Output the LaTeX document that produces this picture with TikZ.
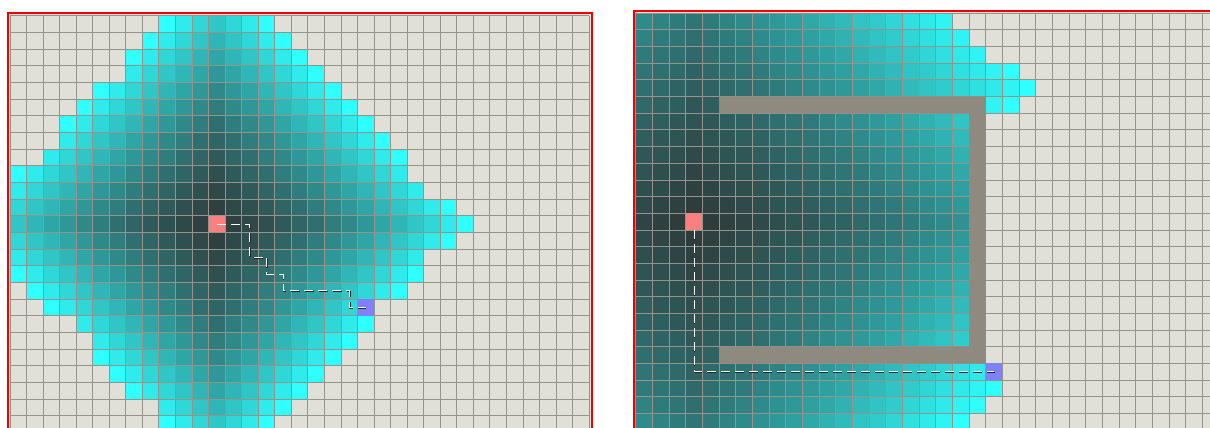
\documentclass[tikz,border=0pt]{standalone}
\usetikzlibrary{positioning}
\definecolor{floorc}{RGB}{224,223,216}
\definecolor{gridc}{RGB}{150,147,138}
\definecolor{wallc}{RGB}{143,138,128}
\definecolor{nearc}{RGB}{47,58,58}
\definecolor{farc}{RGB}{48,255,255}
\definecolor{srcc}{RGB}{250,128,128}
\definecolor{dstc}{RGB}{128,128,250}
\definecolor{framec}{RGB}{240,0,0}

\begin{document}
\begin{tikzpicture}[x=1pt, y=-1pt,
  frame/.style={draw=framec, line width=2pt},
  gridline/.style={draw=gridc, line width=1pt},
  srccell/.style={rectangle, fill=srcc, inner sep=0pt, minimum width=16.5pt, minimum height=16.6pt},
  dstcell/.style={srccell, fill=dstc},
  trail/.style={draw=white, line width=1pt, dash pattern=on 9pt off 5pt,
    preaction={draw=black!85, line width=1.3pt, dash pattern=on 9pt off 5pt,
      transform canvas={xshift=0.6pt, yshift=-0.7pt}}}
]
\clip (0,0) rectangle (1210,428);
\fill[white] (0,0) rectangle (1210,428);

% open field
\fill[floorc] (8.3,13.3) rectangle (591.5,440);
\begin{scope}[shift={(10,15.7)}, x=16.55pt, y=-16.67pt]
  \foreach \row/\lo/\hi in {0/9/15, 1/8/16, 2/7/17, 3/7/18, 4/5/19, 5/4/20, 6/3/21,
      7/3/22, 8/2/23, 9/0/23, 10/0/24, 11/0/26, 12/0/27, 13/0/26, 14/0/24, 15/0/24,
      16/1/23, 17/2/21, 18/4/21, 19/5/20, 20/5/19, 21/6/18, 22/7/17, 23/9/16, 24/9/15}{
    \foreach \col in {\lo,...,\hi}{
      \pgfmathsetmacro\tval{(abs(\col-12)+abs(\row-12))/15}
      \pgfmathtruncatemacro\mix{100*(0.5*\tval*\tval+0.5*\tval)}
      \fill[farc!\mix!nearc] (\col,\row) rectangle ++(1,1);
    }
  }
  \foreach \i in {0,...,35} \draw[gridline] (\i,0) -- (\i,25);
  \foreach \j in {0,...,25} \draw[gridline] (0,\j) -- (35,\j);
  \node[srccell] (srcA) at (12.5,12.5) {};
  \node[dstcell] (dstA) at (21.5,17.5) {};
  \draw[trail] (srcA.center) -- (14.5,12.5) -- (14.5,14.5) -- (15.5,14.5) -- (15.5,15.5)
    -- (16.5,15.5) -- (16.5,16.5) -- (20.5,16.5) -- (20.5,17.5) -- (dstA.center);
\end{scope}
\draw[frame] (8.3,13.3) rectangle (591.5,440);

% walled room
\fill[floorc] (634,11) rectangle (1230,440);
\begin{scope}[shift={(635.7,13.3)}, x=16.67pt, y=-16.67pt]
  \foreach \col in {0,...,34}{
    \foreach \row in {0,...,24}{
      \pgfmathtruncatemacro\dist{(\col>20 && \row>4 && \row<21) ? min(\col+\row+1,\col+27-\row) : abs(\col-3)+abs(\row-12)}
      \ifnum\dist<28
        \pgfmathsetmacro\tval{\dist/28}
        \pgfmathtruncatemacro\mix{100*(0.5*\tval*\tval+0.5*\tval)}
        \fill[farc!\mix!nearc] (\col,\row) rectangle ++(1,1);
      \fi
    }
  }
  \foreach \col/\row in {22/3, 23/4, 22/5, 21/22, 20/23, 19/24}
    \fill[farc] (\col,\row) rectangle ++(1,1);
  \foreach \i in {0,...,35} \draw[gridline] (\i,0) -- (\i,25);
  \foreach \j in {0,...,25} \draw[gridline] (0,\j) -- (35,\j);
  \fill[wallc] (5,5) rectangle (21,6) (20,5) rectangle (21,21) (5,20) rectangle (21,21);
  \node[srccell, minimum width=16.6pt] (srcB) at (3.5,12.5) {};
  \node[dstcell, minimum width=16.6pt] (dstB) at (21.5,21.5) {};
  \draw[trail] (srcB.south) -- (3.5,21.5) -- (dstB.center);
\end{scope}
\draw[frame] (634,11) rectangle (1230,440);
\end{tikzpicture}
\end{document}
